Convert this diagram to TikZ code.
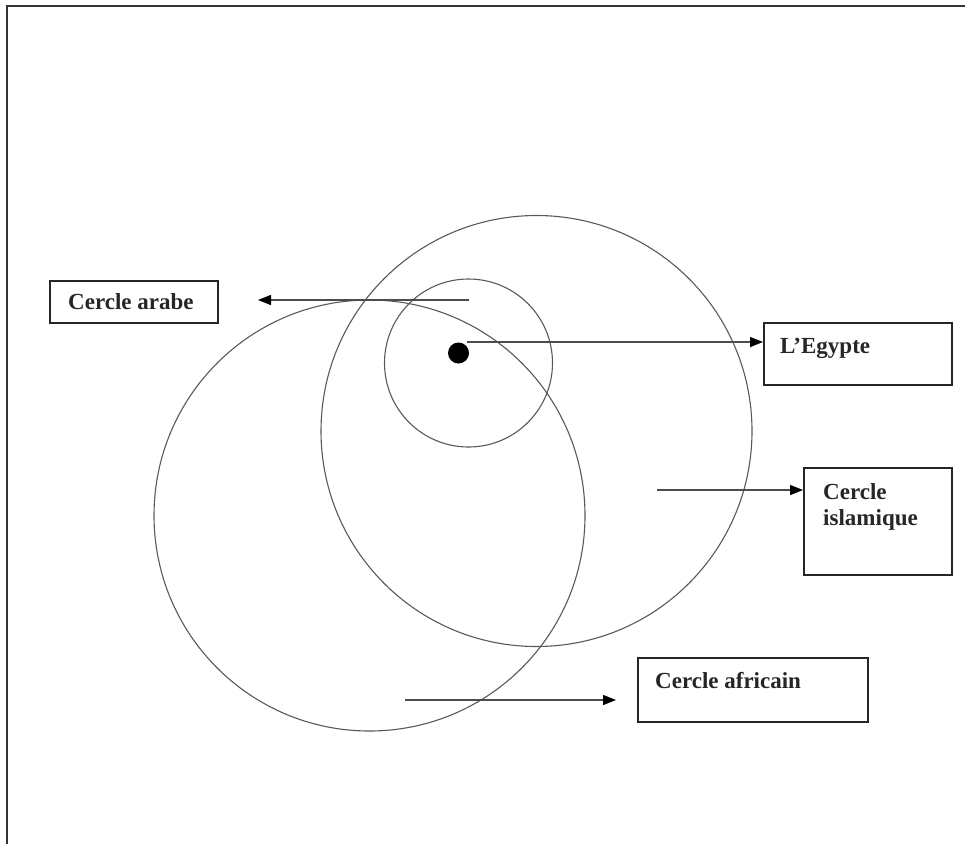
\documentclass[tikz,border=0pt]{standalone}
\usepackage{fontspec}
\setmainfont{Liberation Serif}
\usetikzlibrary{arrows.meta}
\begin{document}
\begin{tikzpicture}[x=1pt,y=-1pt,
  ring/.style={draw=black!65, line width=1.1pt},
  box/.style={draw=black!85, line width=1.8pt, rectangle, inner sep=0pt},
  lbl/.style={inner sep=0pt, font=\fontsize{23}{26}\selectfont\bfseries, text=black!85},
  arr/.style={draw=black!70, line width=1.4pt, -{Triangle[length=13pt,width=10pt,color=black]}}]
\useasboundingbox (0,0) rectangle (965,844);
% frame
\coordinate (fbl) at (7,844);
\coordinate (ftl) at (7,6);
\coordinate (ftr) at (965,6);
\draw[black!80, line width=2.2pt] (fbl) -- (ftl) -- (ftr);
% circles
\node[ring, circle, minimum size=168pt, inner sep=0pt] (small) at (468.5,363) {};
\node[ring, circle, minimum size=431pt, inner sep=0pt] (islam) at (536.5,431) {};
\node[ring, circle, minimum size=431pt, inner sep=0pt] (afr) at (369.5,515.5) {};
\node[circle, fill=black, minimum size=21pt, inner sep=0pt] (dot) at (458.5,353) {};
% boxes
\node[box, minimum width=168pt, minimum height=42pt, anchor=north west] (arabeBox) at (49,280) {};
\node[box, minimum width=188pt, minimum height=62pt, anchor=north west] (egyBox) at (763,322) {};
\node[box, minimum width=148pt, minimum height=107pt, anchor=north west] (islBox) at (803,467) {};
\node[box, minimum width=230pt, minimum height=64pt, anchor=north west] (afrBox) at (637,657) {};
% labels
\node[lbl, anchor=base west] (arabeTxt) at (68,309) {Cercle arabe};
\node[lbl, anchor=base west] (egyTxt) at (780,353) {L’Egypte};
\node[lbl, anchor=base west] (islTxt1) at (823,499) {Cercle};
\node[lbl, anchor=base west] (islTxt2) at (823,525) {islamique};
\node[lbl, anchor=base west] (afrTxt) at (655,688) {Cercle africain};
% arrows
\coordinate (a1s) at (469,300);
\coordinate (a1e) at (258,300);
\draw[arr] (a1s) -- (a1e);
\coordinate (a2s) at (467,342);
\draw[arr] (a2s) -- (egyBox.west |- a2s);
\coordinate (a3s) at (657,490);
\draw[arr] (a3s) -- (islBox.west |- a3s);
\coordinate (a4s) at (405,700);
\coordinate (a4e) at (616,700);
\draw[arr] (a4s) -- (a4e);
\end{tikzpicture}
\end{document}
